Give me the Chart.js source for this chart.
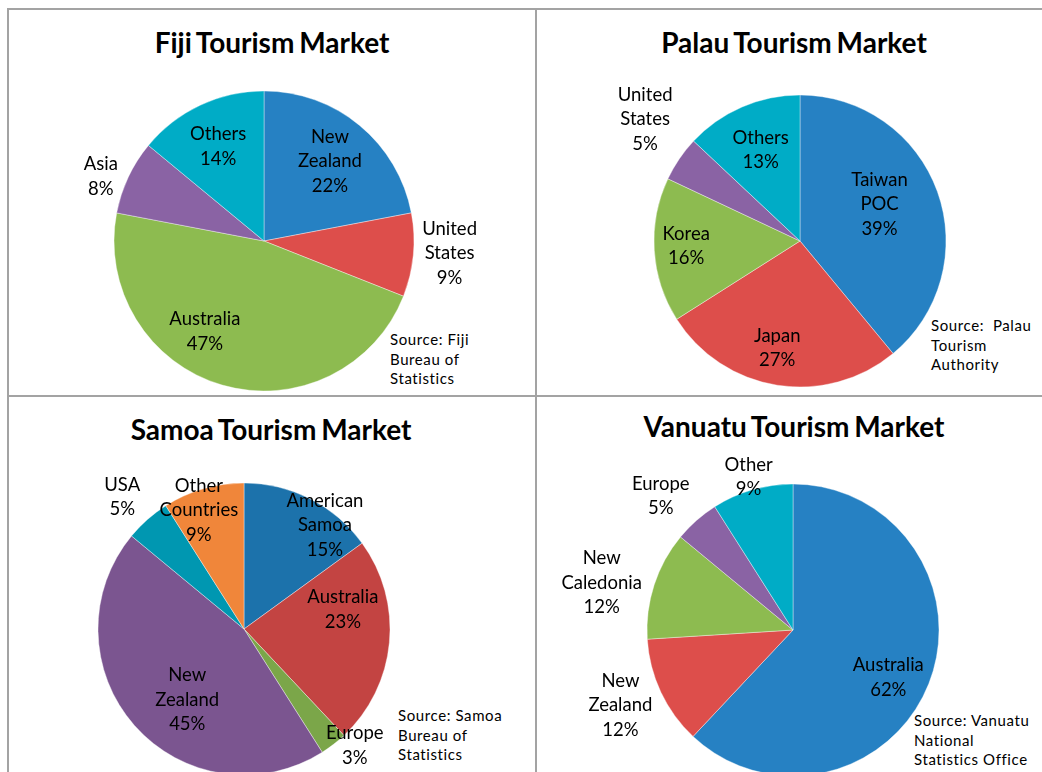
<!DOCTYPE html>
<html>
<head>
<meta charset="utf-8">
<script src="https://cdn.jsdelivr.net/npm/chart.js@4"></script>
<style>
html, body { margin: 0; padding: 0; background: #fff; overflow: hidden; width: 1042px; height: 772px; }
canvas { position: absolute; left: 0; top: 0; }
.line { position: absolute; background: #a3a3a3; }
.title { position: absolute; font: bold 28px Lato, sans-serif; line-height: 30px; word-spacing: -2px; transform: translateX(-50%); white-space: nowrap; color: #000; }
.source { position: absolute; font: 15px Lato, sans-serif; line-height: 19.5px; letter-spacing: 0.6px; color: #000; white-space: nowrap; }
</style>
</head>
<body>
<div class="line" style="left:7px;top:8px;width:1035px;height:2px"></div>
<div class="line" style="left:7px;top:8px;width:2px;height:764px"></div>
<div class="line" style="left:535px;top:8px;width:2px;height:764px"></div>
<div class="line" style="left:7px;top:395px;width:1035px;height:2px"></div>

<div class="title" style="left:272px;top:27px">Fiji Tourism Market</div>
<div class="title" style="left:794px;top:27px">Palau Tourism Market</div>
<div class="title" style="left:271px;top:414px">Samoa Tourism Market</div>
<div class="title" style="left:794px;top:411px">Vanuatu Tourism Market</div>

<div class="source" style="left:390px;top:330px">Source: Fiji<br>Bureau of<br>Statistics</div>
<div class="source" style="left:931px;top:316px">Source:&nbsp; Palau<br>Tourism<br>Authority</div>
<div class="source" style="left:398px;top:706px">Source: Samoa<br>Bureau of<br>Statistics</div>
<div class="source" style="left:914px;top:711px">Source: Vanuatu<br>National<br>Statistics Office</div>

<canvas id="fiji" width="1042" height="800"></canvas>
<canvas id="palau" width="1042" height="800"></canvas>
<canvas id="samoa" width="1042" height="800"></canvas>
<canvas id="vanuatu" width="1042" height="800"></canvas>

<script>
// market shares, percent of visitor arrivals
const fijiCategories = ['New Zealand', 'United States', 'Australia', 'Asia', 'Others'];
const fijiShares = [22, 9, 47, 8, 14];

const palauCategories = ['Taiwan POC', 'Japan', 'Korea', 'United States', 'Others'];
const palauShares = [39, 27, 16, 5, 13];

const samoaCategories = ['American Samoa', 'Australia', 'Europe', 'New Zealand', 'USA', 'Other Countries'];
const samoaShares = [15, 23, 3, 45, 5, 9];

const vanuatuCategories = ['Australia', 'New Zealand', 'New Caledonia', 'Europe', 'Other'];
const vanuatuShares = [62, 12, 12, 5, 9];

const officeColors = ['#2681c3', '#dd4e4b', '#8dbb50', '#8a63a4', '#00acc6'];
const samoaColors = ['#1c72ab', '#c34442', '#7ba649', '#7b5590', '#0097b1', '#f0863a'];

// label text drawn at the slice middle, moved out by dist * radius
const sliceLabels = {
    id: 'sliceLabels',
    afterDatasetsDraw(chart, args, opts) {
        const ctx = chart.ctx;
        const meta = chart.getDatasetMeta(0);
        const values = chart.data.datasets[0].data;
        ctx.save();
        ctx.font = '18.5px Lato, sans-serif';
        ctx.fillStyle = '#000';
        ctx.textAlign = 'center';
        ctx.textBaseline = 'middle';
        meta.data.forEach((arc, i) => {
            const p = arc.getProps(['x', 'y', 'startAngle', 'endAngle', 'outerRadius'], true);
            const mid = (p.startAngle + p.endAngle) / 2 + opts.turn[i] * Math.PI / 180;
            const d = opts.dist[i] * p.outerRadius;
            const x = p.x + Math.cos(mid) * d;
            const y = p.y + Math.sin(mid) * d;
            const lines = chart.data.labels[i].split(' ').concat([values[i] + '%']);
            lines.forEach((t, k) => ctx.fillText(t, x, y + (k - (lines.length - 1) / 2) * 24.5));
        });
        ctx.restore();
    }
};

function makePie(id, categories, shares, colors, cx, cy, r, dist, turn) {
    const W = 1042, H = 800;
    return new Chart(document.getElementById(id), {
        type: 'pie',
        data: {
            labels: categories,
            datasets: [{
                data: shares,
                backgroundColor: colors,
                borderColor: 'rgba(255,255,255,0.55)',
                borderWidth: 0.7,
                radius: r
            }]
        },
        options: {
            responsive: false,
            animation: false,
            layout: { padding: { left: cx - r, right: W - cx - r, top: cy - r, bottom: H - cy - r } },
            plugins: {
                legend: { display: false },
                tooltip: { enabled: false },
                sliceLabels: { dist: dist, turn: turn }
            }
        },
        plugins: [sliceLabels]
    });
}

makePie('fiji', fijiCategories, fijiShares, officeColors, 264, 241, 150,
    [0.69, 1.24, 0.72, 1.17, 0.70], [0, -1.6, 17, -3.6, -0.7]);
makePie('palau', palauCategories, palauShares, officeColors, 800, 241, 146,
    [0.60, 0.75, 0.78, 1.35, 0.68], [-5, 3, 1, 4, 0]);
makePie('samoa', samoaCategories, samoaShares, samoaColors, 244, 629, 146,
    [0.90, 0.69, 1.10, 0.62, 1.23, 0.87], [11, -16.5, -5.8, -9.8, -1.3, -4.6]);
makePie('vanuatu', vanuatuCategories, vanuatuShares, officeColors, 793, 630, 146,
    [0.73, 1.29, 1.35, 1.29, 1.09], [5, 1.6, -4.1, -3.2, 0]);
</script>
</body>
</html>
